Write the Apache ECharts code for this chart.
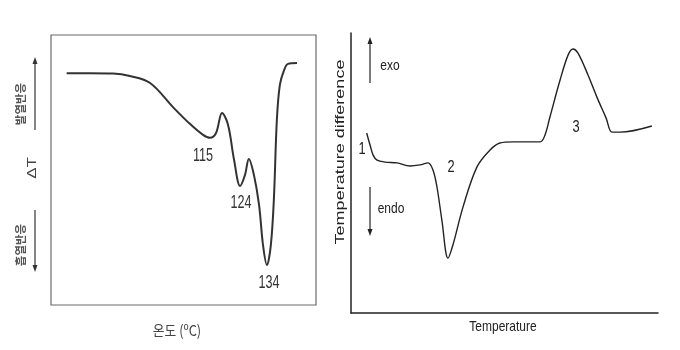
<!DOCTYPE html>
<html><head><meta charset="utf-8">
<script src="https://cdn.jsdelivr.net/npm/echarts@6/dist/echarts.min.js"></script>
<style>html,body{margin:0;padding:0;background:#fff}#c{width:680px;height:350px}</style>
</head><body><div id="c"></div>
<script>
// Left panel (DTA, 온도 °C vs ΔT)
const leftTemp = [67.2, 74.9, 82.6, 88.2, 94.9, 102.5, 108.2, 112.5, 114.8, 116.8, 118.8, 120.8, 122.8, 124.8, 126.4, 127.7, 129.4, 131.1, 132.4, 133.7, 135.0, 136.0, 137.0, 138.0, 139.4, 140.7, 143.7];
const leftDT   = [85.8, 85.8, 85.7, 84.8, 82.2, 73.3, 67.0, 63.0, 61.9, 63.7, 71.1, 66.7, 53.7, 44.1, 48.1, 54.1, 48.1, 37.0, 22.2, 14.8, 22.2, 38.9, 68.5, 81.5, 87.0, 89.3, 89.6];
const peakLabels = ['115', '124', '134'];
// Right panel (Temperature vs Temperature difference)
const rightTemp = [5.1, 6.2, 7.2, 8.5, 11.1, 15.0, 19.2, 22.5, 25.1, 26.7, 28.0, 29.6, 31.6, 33.2, 36.5, 41.0, 45.3, 48.5, 52.8, 61.6, 63.2, 64.8, 68.1, 70.7, 72.3, 73.9, 77.2, 80.1, 83.1, 85.0, 87.6, 98.0];
const rightDiff = [64.3, 60.0, 56.4, 54.6, 53.9, 53.6, 52.5, 52.9, 53.6, 51.1, 45.0, 33.2, 19.6, 24.3, 37.9, 52.1, 58.2, 60.7, 61.1, 61.1, 63.6, 70.0, 83.2, 92.1, 94.3, 92.9, 85.0, 77.1, 69.6, 64.6, 64.6, 66.8];
const regionLabels = ['1', '2', '3'];

const chart = echarts.init(document.getElementById('c'));
const FF = 'Liberation Sans, Arial, sans-serif';
const KF = '"Noto Sans CJK KR", sans-serif';

function txt(x, y, text, size, opts) {
  opts = opts || {};
  return {
    type: 'text', x: x, y: y,
    rotation: opts.rot || 0,
    scaleX: opts.sx || 1, scaleY: opts.sy || 1,
    style: { text: text, x: 0, y: 0, align: 'center', verticalAlign: 'middle',
      fontSize: size, fontFamily: opts.ff || FF, fill: opts.color || '#222', fontWeight: opts.fw || 'normal' }
  };
}
function arrow(x, y1, y2, color) {
  const dir = y2 < y1 ? -1 : 1;
  return [
    { type: 'line', shape: { x1: x, y1: y1, x2: x, y2: y2 - dir * 5 }, style: { stroke: color, lineWidth: 1.2 } },
    { type: 'polygon', shape: { points: [[x, y2], [x - 2.5, y2 - dir * 7], [x + 2.5, y2 - dir * 7]] }, style: { fill: color } }
  ];
}

const zip = (a, b) => a.map((v, i) => [v, b[i]]);

chart.setOption({
  animation: false,
  grid: [
    { left: 51, top: 35, width: 265, height: 270, show: true, borderColor: '#6a6a6a', borderWidth: 1.2, backgroundColor: 'transparent' },
    { left: 351, top: 33, width: 307, height: 280 }
  ],
  xAxis: [
    { gridIndex: 0, type: 'value', min: 62, max: 150, show: false },
    { gridIndex: 1, type: 'value', min: 0, max: 100, axisLine: { show: true, lineStyle: { color: '#222', width: 1.5 } },
      axisTick: { show: false }, axisLabel: { show: false }, splitLine: { show: false } }
  ],
  yAxis: [
    { gridIndex: 0, type: 'value', min: 0, max: 100, show: false },
    { gridIndex: 1, type: 'value', min: 0, max: 100, axisLine: { show: true, lineStyle: { color: '#222', width: 1.5 } },
      axisTick: { show: false }, axisLabel: { show: false }, splitLine: { show: false } }
  ],
  series: [
    { type: 'line', xAxisIndex: 0, yAxisIndex: 0, data: zip(leftTemp, leftDT), smooth: 0.35, symbol: 'none',
      lineStyle: { color: '#333', width: 2 } },
    { type: 'line', xAxisIndex: 1, yAxisIndex: 1, data: zip(rightTemp, rightDiff), smooth: 0.35, symbol: 'none',
      lineStyle: { color: '#222', width: 1.4 } }
  ],
  graphic: [
    // left panel annotations
    txt(203, 156, peakLabels[0], 18, { sx: 0.7, color: '#333' }),
    txt(241, 203, peakLabels[1], 18, { sx: 0.7, color: '#333' }),
    txt(269, 283, peakLabels[2], 18, { sx: 0.7, color: '#333' }),
    txt(177, 330, '온도 (ºC)', 15, { sx: 0.85, color: '#444', ff: KF }),
    txt(32, 168, 'ΔT', 17, { rot: Math.PI / 2, sy: 0.8, color: '#444' }),
    txt(21, 104, '발열반응', 11.5, { rot: Math.PI / 2, color: '#555', ff: KF, fw: 'bold' }),
    txt(21, 245, '흡열반응', 11.5, { rot: Math.PI / 2, color: '#555', ff: KF, fw: 'bold' }),
    ...arrow(35, 130, 57, '#333'),
    ...arrow(35, 210, 272, '#333'),
    // right panel annotations
    txt(340, 152, 'Temperature difference', 18, { rot: Math.PI / 2, sy: 0.75, color: '#222' }),
    txt(503, 327, 'Temperature', 15, { sx: 0.8, color: '#222' }),
    txt(390, 66, 'exo', 15, { sx: 0.8, color: '#222' }),
    txt(391, 209, 'endo', 15, { sx: 0.8, color: '#222' }),
    txt(362, 150, regionLabels[0], 16, { sx: 0.8, color: '#222' }),
    txt(451, 168, regionLabels[1], 16, { sx: 0.8, color: '#222' }),
    txt(576, 128, regionLabels[2], 16, { sx: 0.8, color: '#222' }),
    ...arrow(370, 83, 37, '#222'),
    ...arrow(370, 187, 236, '#222')
  ]
});
</script>
</body></html>
